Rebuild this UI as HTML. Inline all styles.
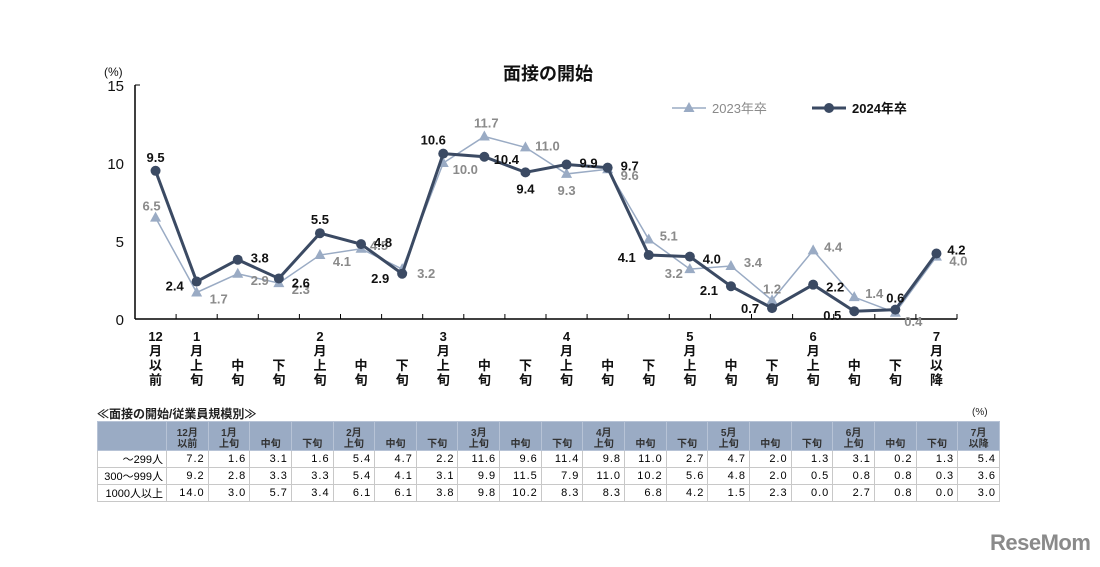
<!DOCTYPE html>
<html><head><meta charset="utf-8"><style>
body{margin:0;background:#fff;}
#wrap{position:relative;width:1100px;height:567px;overflow:hidden;font-family:"Liberation Sans","Noto Sans CJK JP",sans-serif;}
table{position:absolute;left:97px;top:421px;border-collapse:collapse;font-size:11px;table-layout:fixed;width:903px;}
td{border:1px solid #c8c8c8;height:14px;padding:0 3px;text-align:right;overflow:hidden;white-space:nowrap;letter-spacing:1px;}
tr.h td{background:#9aabc4;height:28px;font-weight:bold;color:#333;text-align:center;vertical-align:bottom;line-height:11px;border-color:#b7c3d6;font-size:10px;letter-spacing:0;}
</style></head><body>
<div id="wrap">
<svg id="svg" width="1100" height="567" style="position:absolute;left:0;top:0"></svg>
<div style="position:absolute;left:97px;top:405px;font-size:12px;font-weight:bold;color:#222">≪面接の開始/従業員規模別≫</div>
<div style="position:absolute;left:972px;top:407px;font-size:10px;color:#222">(%)</div>
<table id="tbl"><colgroup><col style="width:69px"></colgroup></table>
<div style="position:absolute;left:990px;top:530px;font-size:22px;font-weight:bold;color:#8a8a8a;letter-spacing:-0.5px">ReseMom</div>
</div>
<script>
const cats=["12月以前","1月上旬","中旬","下旬","2月上旬","中旬","下旬","3月上旬","中旬","下旬","4月上旬","中旬","下旬","5月上旬","中旬","下旬","6月上旬","中旬","下旬","7月以降"];
const catLabels=[["12","月","以","前"],["1","月","上","旬"],["中","旬"],["下","旬"],["2","月","上","旬"],["中","旬"],["下","旬"],["3","月","上","旬"],["中","旬"],["下","旬"],["4","月","上","旬"],["中","旬"],["下","旬"],["5","月","上","旬"],["中","旬"],["下","旬"],["6","月","上","旬"],["中","旬"],["下","旬"],["7","月","以","降"]];
const s2024=[9.5,2.4,3.8,2.6,5.5,4.8,2.9,10.6,10.4,9.4,9.9,9.7,4.1,4.0,2.1,0.7,2.2,0.5,0.6,4.2];
const s2023=[6.5,1.7,2.9,2.3,4.1,4.5,3.2,10.0,11.7,11.0,9.3,9.6,5.1,3.2,3.4,1.2,4.4,1.4,0.4,4.0];
const yTicks=[0,5,10,15];
const tHead=[["12月","以前"],["1月","上旬"],["","中旬"],["","下旬"],["2月","上旬"],["","中旬"],["","下旬"],["3月","上旬"],["","中旬"],["","下旬"],["4月","上旬"],["","中旬"],["","下旬"],["5月","上旬"],["","中旬"],["","下旬"],["6月","上旬"],["","中旬"],["","下旬"],["7月","以降"]];
const rowNames=["～299人","300～999人","1000人以上"];
const r1=[7.2,1.6,3.1,1.6,5.4,4.7,2.2,11.6,9.6,11.4,9.8,11.0,2.7,4.7,2.0,1.3,3.1,0.2,1.3,5.4];
const r2=[9.2,2.8,3.3,3.3,5.4,4.1,3.1,9.9,11.5,7.9,11.0,10.2,5.6,4.8,2.0,0.5,0.8,0.8,0.3,3.6];
const r3=[14.0,3.0,5.7,3.4,6.1,6.1,3.8,9.8,10.2,8.3,8.3,6.8,4.2,1.5,2.3,0.0,2.7,0.8,0.0,3.0];
// label offsets (placement only)
const off24=[[0,-14],[-22,4],[22,-2],[22,4],[0,-14],[22,-2],[-22,4],[-10,-14],[22,2],[0,16],[22,-2],[22,-2],[-22,2],[22,2],[-22,4],[-22,0],[22,2],[-22,4],[0,-12],[20,-4]];
const off23=[[-4,-12],[22,6],[22,6],[22,6],[22,6],[18,-4],[24,4],[22,6],[2,-14],[22,-2],[0,16],[22,6],[20,-4],[-16,4],[22,-4],[0,-12],[20,-4],[20,-4],[18,8],[22,4]];
const X0=135,W=41.1,Y0=319,K=15.6;
const xs=i=>X0+W/2+i*W, ys=v=>Y0-v*K;
const svg=document.getElementById('svg'),NS="http://www.w3.org/2000/svg";
function mk(t,a,p){const e=document.createElementNS(NS,t);for(const k in a)e.setAttribute(k,a[k]);(p||svg).appendChild(e);return e;}
let e=mk('text',{x:548,y:80,'text-anchor':'middle','font-size':18,'font-weight':'bold',fill:'#111'});e.textContent='面接の開始';


e=mk('text',{x:104,y:76,'font-size':12,fill:'#111'});e.textContent='(%)';


mk('line',{x1:X0,y1:ys(15),x2:X0,y2:Y0,stroke:'#000','stroke-width':1.5});
mk('line',{x1:X0,y1:Y0,x2:X0+20*W,y2:Y0,stroke:'#000','stroke-width':1.5});
mk('line',{x1:X0,y1:ys(15),x2:X0+5,y2:ys(15),stroke:'#000'});
yTicks.forEach(v=>{const t=mk('text',{x:124,y:ys(v)+6,'text-anchor':'end','font-size':15,fill:'#111'});t.textContent=v;

});
for(let i=1;i<=20;i++)mk('line',{x1:X0+i*W,y1:Y0,x2:X0+i*W,y2:Y0-5,stroke:'#000'});
catLabels.forEach((l,i)=>{const n=l.length;l.forEach((c,j)=>{const t=mk('text',{x:xs(i),y:340+(4-n+j)*14.5+1,'text-anchor':'middle','font-size':13,'font-weight':'bold',fill:'#111'});t.textContent=c;

});});
function series(d,col,w,shape,off,lc,name){
 mk('polyline',{points:d.map((v,i)=>xs(i)+','+ys(v)).join(' '),fill:'none',stroke:col,'stroke-width':w,});
 d.forEach((v,i)=>{const x=xs(i),y=ys(v);let m;
  if(shape=='c')m=mk('circle',{cx:x,cy:y,r:5,fill:col});
  else m=mk('polygon',{points:`${x},${y-6} ${x-5.5},${y+4} ${x+5.5},${y+4}`,fill:col});
  
  
  const t=mk('text',{x:x+off[i][0],y:y+off[i][1]+5,'text-anchor':'middle','font-size':13,'font-weight':'bold',fill:lc});t.textContent=v.toFixed(1);
  
  });
}
series(s2023,'#9aabc4',1.5,'t',off23,'#8a8a8a','series-2023');
series(s2024,'#3b4a63',3,'c',off24,'#111','series-2024');
mk('line',{x1:672,y1:108,x2:706,y2:108,stroke:'#9aabc4','stroke-width':1.5});
mk('polygon',{points:'689,102 683.5,112 694.5,112',fill:'#9aabc4'});
e=mk('text',{x:712,y:113,'font-size':13,fill:'#8a8a8a'});e.textContent='2023年卒';


mk('line',{x1:812,y1:108,x2:846,y2:108,stroke:'#3b4a63','stroke-width':3});
mk('circle',{cx:829,cy:108,r:5,fill:'#3b4a63'});
e=mk('text',{x:852,y:113,'font-size':13,'font-weight':'bold',fill:'#111'});e.textContent='2024年卒';


const tb=document.getElementById('tbl');
let h='<tr class="h"><td></td>'+tHead.map(a=>`<td>${a[0]}<br>${a[1]}</td>`).join('')+'</tr>';
[r1,r2,r3].forEach((r,k)=>{h+=`<tr><td style="letter-spacing:0">${rowNames[k]}</td>`+r.map(v=>`<td>${v.toFixed(1)}</td>`).join('')+'</tr>';});
tb.insertAdjacentHTML('beforeend',h);
</script>
</body></html>
